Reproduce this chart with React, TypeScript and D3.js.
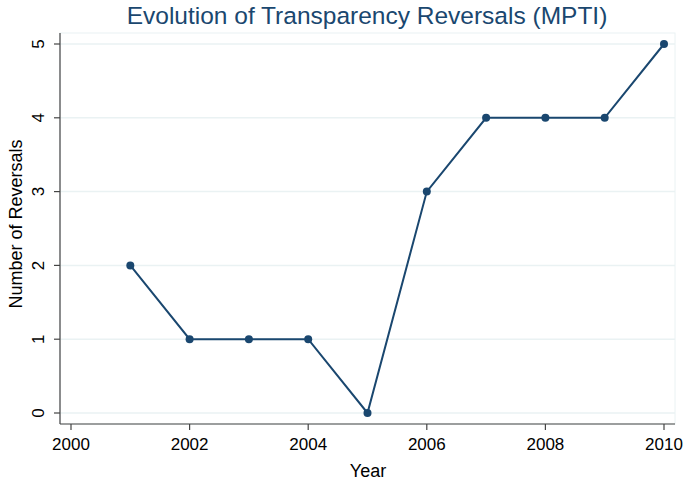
import * as d3 from "d3";

const years = [2001, 2002, 2003, 2004, 2005, 2006, 2007, 2008, 2009, 2010];
const reversals = [2, 1, 1, 1, 0, 3, 4, 4, 4, 5];
const xTicks = [2000, 2002, 2004, 2006, 2008, 2010];
const yTicks = [0, 1, 2, 3, 4, 5];

const W = 685;
const H = 483;
const NAVY = "#1a476f";
const FONT = "'Liberation Sans', Arial, Helvetica, sans-serif";

// plot box edges (Stata-style region a bit wider than data range)
const left = 60;
const right = 675;
const top = 33;
const bottom = 424;

export default function App() {
  const x = d3.scaleLinear().domain([2000, 2010]).range([71, 664]);
  const y = d3.scaleLinear().domain([0, 5]).range([413, 44]);

  const line = d3
    .line<number>()
    .x((_, i) => x(years[i]))
    .y((d) => y(d));

  return (
    <div style={{ position: "absolute", left: 0, top: 0 }}>
      <svg width={W} height={H} style={{ display: "block", background: "#fff" }} fontFamily={FONT}>
        <text x={367} y={24} textAnchor="middle" fontSize={24.5} fill={NAVY}>
          Evolution of Transparency Reversals (MPTI)
        </text>

        {/* plot region border (faint) */}
        <rect x={left} y={top} width={right - left} height={bottom - top} fill="none" stroke="#eaf2f3" />

        {/* grid */}
        {yTicks.map((t) => (
          <line key={t} x1={left} x2={right} y1={y(t)} y2={y(t)} stroke="#eaf2f3" strokeWidth={1.5} />
        ))}

        {/* axes */}
        <line x1={left} x2={left} y1={top} y2={bottom} stroke="#444" strokeWidth={1.2} />
        <line x1={left} x2={right} y1={bottom} y2={bottom} stroke="#444" strokeWidth={1.2} />

        {yTicks.map((t) => (
          <g key={t}>
            <line x1={left - 6} x2={left} y1={y(t)} y2={y(t)} stroke="#444" strokeWidth={1.2} />
            <text
              transform={`translate(${44},${y(t)}) rotate(-90)`}
              textAnchor="middle"
              fontSize={17}
              fill="#000"
            >
              {t}
            </text>
          </g>
        ))}

        {xTicks.map((t) => (
          <g key={t}>
            <line x1={x(t)} x2={x(t)} y1={bottom} y2={bottom + 6} stroke="#444" strokeWidth={1.2} />
            <text x={x(t)} y={450} textAnchor="middle" fontSize={17} fill="#000">
              {t}
            </text>
          </g>
        ))}

        <text x={368} y={477} textAnchor="middle" fontSize={18} fill="#000">
          Year
        </text>
        <text transform={`translate(${22},${224}) rotate(-90)`} textAnchor="middle" fontSize={18} fill="#000">
          Number of Reversals
        </text>

        <path d={line(reversals) ?? ""} fill="none" stroke={NAVY} strokeWidth={2} />
        {reversals.map((v, i) => (
          <circle key={i} cx={x(years[i])} cy={y(v)} r={4} fill={NAVY} />
        ))}
      </svg>
    </div>
  );
}
